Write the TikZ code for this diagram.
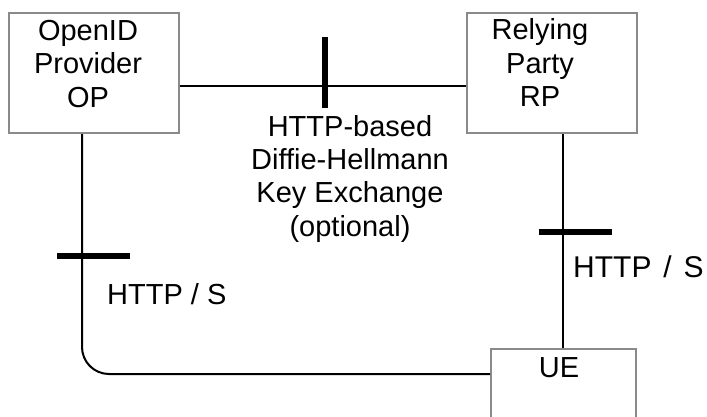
\documentclass[tikz,border=0pt]{standalone}
\usepackage{fontspec}
\setmainfont{Liberation Sans}
\definecolor{boxgray}{RGB}{138,138,138}
\begin{document}
\begin{tikzpicture}[x=1pt,y=-1pt,
  box/.style={draw=boxgray, line width=2pt, fill=white, inner sep=0pt},
  conn/.style={line width=2pt, black},
  tickmark/.style={line width=6.5pt, black},
  lbl/.style={font=\fontsize{29}{33.3}\selectfont, inner sep=0pt, anchor=base, align=center},
]
\useasboundingbox (0,0) rectangle (707,416);
\fill[white] (0,0) rectangle (707,416);
\clip (0,0) rectangle (707,416);
% boxes
\node[box, minimum width=170pt, minimum height=120pt] (op) at (94,73) {};
\node[box, minimum width=170pt, minimum height=120pt] (rp) at (552,73) {};
\node[box, minimum width=145pt, minimum height=92pt] (ue) at (563.5,395) {};
% helper coordinates
\coordinate (hy) at (0,86);
\coordinate (lx) at (82,0);
\coordinate (rx) at (563,0);
\coordinate (uey) at (0,374);
% connectors
\draw[conn] (op.east |- hy) -- (rp.west |- hy);
\draw[conn, rounded corners=27pt] (op.south -| lx) |- (ue.west |- uey);
\draw[conn] (rp.south -| rx) -- (ue.north -| rx);
% tick marks
\draw[tickmark] (325,37) -- (325,108);
\draw[tickmark] (57,256) -- (130,256);
\draw[tickmark] (539,232) -- (612,232);
% texts (base anchor = baseline of the last line)
\node[lbl] (optxt) at (88,107) {OpenID\\Provider\\OP};
\node[lbl] (rptxt) at (540,106.5) {Relying\\Party\\RP};
\node[lbl] (dh) at (350,236) {HTTP-based\\Diffie-Hellmann\\Key Exchange\\(optional)};
\node[lbl, anchor=base west] (h1) at (107,304) {HTTP / S};
\node[lbl, anchor=base west, font=\fontsize{30}{34}\selectfont] (h2) at (573,277) {HTTP\hspace{3.5pt} /\hspace{3.5pt} S};
\node[lbl] (uetxt) at (559,377) {UE};
\end{tikzpicture}
\end{document}
